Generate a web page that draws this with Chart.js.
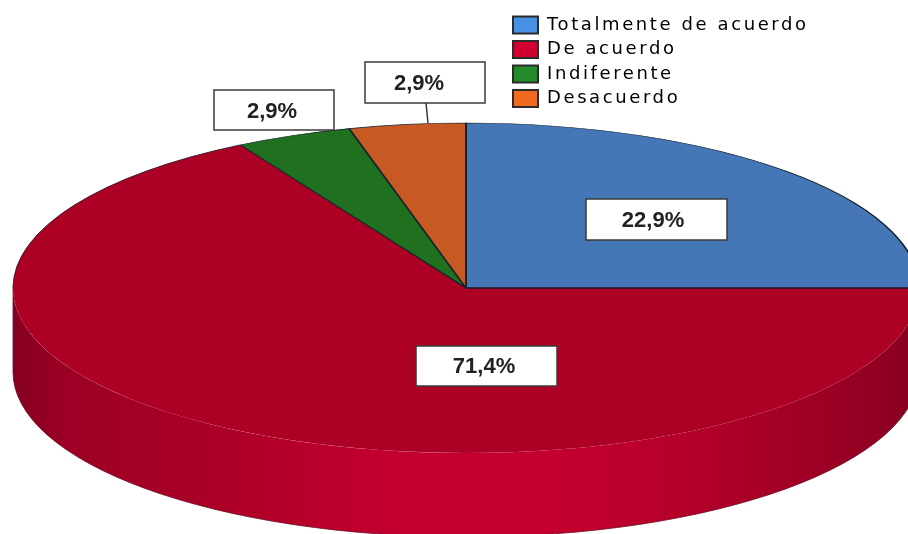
<!DOCTYPE html>
<html>
<head>
<meta charset="utf-8">
<style>html,body{margin:0;padding:0;background:#fff}#wrap{width:908px;height:534px;overflow:hidden}</style>
<script src="https://cdn.jsdelivr.net/npm/chart.js@4"></script>
</head>
<body>
<div id="wrap"><canvas id="c" width="908" height="534"></canvas></div>
<script>
// Categories and the printed percentages, as written on the chart
const categories = ['Totalmente de acuerdo', 'De acuerdo', 'Indiferente', 'Desacuerdo'];
const printedLabels = ['22,9%', '71,4%', '2,9%', '2,9%'];
// Slice sizes as actually drawn in the picture (measured from the slice angles)
const drawnShares = [25, 66.7, 4.15, 4.15];
const sliceColors = ['#4577b7', '#ad0025', '#1f711f', '#c65a22'];
const legendColors = ['#4a90e2', '#d0002f', '#258a2c', '#f26a21'];
const sliceBorders = ['#14202c', 'rgba(0,0,0,0)', '#14202c', '#14202c'];

const PIE = {cx: 466, cy: 288, rx: 453, ry: 165, depth: 84};
const BOXES = [
  {x: 586, y: 199, w: 141, h: 41, tx: 653, ty: 221},
  {x: 416, y: 346, w: 141, h: 40, tx: 484, ty: 367},
  {x: 214, y: 90,  w: 120, h: 40, tx: 272, ty: 112},
  {x: 365, y: 62,  w: 120, h: 41, tx: 419, ty: 84}
];
const LEADERS = [null, null, null, [426, 103, 428, 123]];
const LEGEND_AT = {x: 513, y: 16};
const LEGEND_SPACING = '2.6px';

const pie3d = {
  id: 'pie3d',
  beforeUpdate(chart) { chart.ctx.letterSpacing = LEGEND_SPACING; },
  beforeDraw(chart) { chart.ctx.letterSpacing = LEGEND_SPACING; },
  afterLayout(chart) {
    const l = chart.legend, pad = l.options.labels.padding;
    const dx = LEGEND_AT.x - pad - l.left, dy = LEGEND_AT.y - pad - l.top;
    l.left += dx; l.right += dx; l.top += dy; l.bottom += dy;
    (l.legendHitBoxes || []).forEach(b => { b.left += dx; b.top += dy; });
  },
  beforeDatasetsDraw(chart) {
    const ctx = chart.ctx, arcs = chart.getDatasetMeta(0).data;
    const g = ctx.createLinearGradient(PIE.cx - PIE.rx, 0, PIE.cx + PIE.rx, 0);
    g.addColorStop(0, '#860020');
    g.addColorStop(0.06, '#9c0024');
    g.addColorStop(0.25, '#ae0026');
    g.addColorStop(0.42, '#c4002e');
    g.addColorStop(0.60, '#c4002e');
    g.addColorStop(0.78, '#b00027');
    g.addColorStop(0.95, '#920022');
    g.addColorStop(1, '#860020');
    // the wall of the disc: visible only on the front half of each slice
    arcs.forEach(a => {
      const lo = Math.max(a.startAngle, 0), hi = Math.min(a.endAngle, Math.PI);
      if (hi <= lo) return;
      ctx.beginPath();
      ctx.ellipse(PIE.cx, PIE.cy, PIE.rx, PIE.ry, 0, lo, hi);
      ctx.ellipse(PIE.cx, PIE.cy + PIE.depth, PIE.rx, PIE.ry, 0, hi, lo, true);
      ctx.closePath();
      ctx.fillStyle = g;
      ctx.fill();
    });
    ctx.beginPath();
    ctx.ellipse(PIE.cx, PIE.cy + PIE.depth, PIE.rx, PIE.ry, 0, 0, Math.PI);
    ctx.lineTo(PIE.cx - PIE.rx, PIE.cy);
    ctx.strokeStyle = '#6a1028';
    ctx.lineWidth = 0.8;
    ctx.stroke();
    // squash the flat pie into the tilted ellipse
    const a = arcs[0], R = a.outerRadius;
    ctx.save();
    ctx.translate(PIE.cx, PIE.cy);
    ctx.scale(PIE.rx / R, PIE.ry / R);
    ctx.translate(-a.x, -a.y);
  },
  afterDatasetsDraw(chart) {
    const ctx = chart.ctx, arcs = chart.getDatasetMeta(0).data;
    ctx.restore();
    ctx.save();
    ctx.letterSpacing = '0px';
    // edges the red slice needs: its back rim and its shared line with blue
    const red = arcs[1];
    ctx.strokeStyle = '#2a1a28';
    ctx.lineWidth = 0.9;
    ctx.beginPath();
    ctx.ellipse(PIE.cx, PIE.cy, PIE.rx, PIE.ry, 0, Math.PI, red.endAngle);
    ctx.stroke();
    ctx.beginPath();
    ctx.moveTo(PIE.cx, PIE.cy);
    ctx.lineTo(PIE.cx + PIE.rx, PIE.cy);
    ctx.lineWidth = 1.3;
    ctx.strokeStyle = '#20182a';
    ctx.stroke();
    BOXES.forEach((b, i) => {
      const leader = LEADERS[i];
      ctx.strokeStyle = '#3a3a3a';
      ctx.lineWidth = 1.5;
      if (leader) {
        ctx.beginPath();
        ctx.moveTo(leader[0], leader[1]);
        ctx.lineTo(leader[2], leader[3]);
        ctx.stroke();
      }
      ctx.fillStyle = '#ffffff';
      ctx.fillRect(b.x, b.y, b.w, b.h);
      ctx.strokeRect(b.x, b.y, b.w, b.h);
      ctx.fillStyle = '#222222';
      ctx.font = 'bold 22px "Liberation Sans", Arial, sans-serif';
      ctx.textAlign = 'center';
      ctx.textBaseline = 'middle';
      ctx.fillText(printedLabels[i], b.tx, b.ty);
    });
    ctx.restore();
  }
};

new Chart(document.getElementById('c'), {
  type: 'pie',
  data: {
    labels: categories,
    datasets: [{
      data: drawnShares,
      backgroundColor: sliceColors,
      borderColor: sliceBorders,
      borderWidth: 1.1
    }]
  },
  options: {
    responsive: false,
    animation: false,
    events: [],
    layout: {padding: 0},
    plugins: {
      tooltip: {enabled: false},
      legend: {
        display: true,
        position: 'right',
        align: 'start',
        labels: {
          boxWidth: 25,
          boxHeight: 17,
          padding: 6.5,
          color: '#3a3a3a',
          font: {family: '"DejaVu Sans", sans-serif', size: 18},
          generateLabels: chart => categories.map((t, i) => ({
            text: t,
            fillStyle: legendColors[i],
            strokeStyle: '#2b2b2b',
            lineWidth: 2,
            index: i
          }))
        }
      }
    }
  },
  plugins: [pie3d]
});
</script>
</body>
</html>
